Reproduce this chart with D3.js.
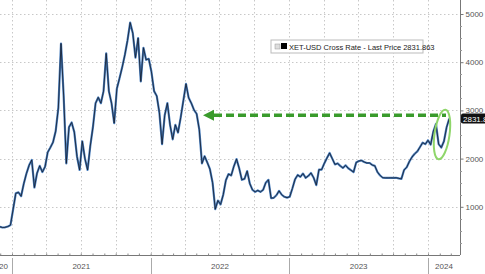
<!DOCTYPE html>
<html>
<head>
<meta charset="utf-8">
<script src="https://cdn.jsdelivr.net/npm/d3@7"></script>
<style>
  body { margin: 0; background: #fff; }
  svg { display: block; font-family: "Liberation Sans", Arial, sans-serif; }
</style>
</head>
<body>
<script>
// XET-USD weekly closes, starting 2020-11-30
var startDate = new Date(2020, 10, 30);
var prices = [
  587, 570, 575, 590, 620, 950, 1280, 1300, 1220, 1480,
  1690, 1860, 1971, 1400, 1700, 1850, 1720, 1830, 2130, 2230,
  2340, 2570, 3050, 4388, 3300, 1900, 2653, 2750, 2550, 2050,
  1764, 2360, 2000, 1764, 2260, 2650, 3150, 3270, 3150, 3400,
  4182, 3400, 3150, 2736, 3450, 3665, 3893, 4150, 4450, 4822,
  4600, 4095, 4500, 3600, 4300, 4050, 4070, 3800, 3400, 3300,
  2950, 2300, 2900, 3150, 2700, 2400, 2700, 2540, 2850, 3200,
  3550, 3260, 3150, 3010, 2930, 2600, 1900, 2050, 1920, 1780,
  1500, 950, 1130, 1050, 1250, 1550, 1680, 1650, 1840, 1990,
  1800, 1560, 1580, 1740, 1480, 1350, 1310, 1340, 1310, 1350,
  1500, 1560, 1180, 1186, 1240, 1330, 1250, 1207, 1190, 1207,
  1380, 1570, 1660, 1620, 1690, 1600, 1640, 1702, 1603, 1450,
  1770, 1770, 1900, 2010, 2116, 2000, 1880, 1900, 1850, 1806,
  1860, 1800, 1760, 1720, 1920, 1950, 1960, 1930, 1909, 1909,
  1868, 1850, 1720, 1650, 1603, 1600, 1599, 1601, 1599, 1603,
  1590, 1580, 1764, 1820, 1940, 2033, 2100, 2150, 2240, 2330,
  2300, 2380, 2290, 2560, 2720, 2300, 2230, 2360, 2650, 2831.863
];
var yTicks = [1000, 2000, 3000, 4000, 5000];
var yearLabels = ["2020", "2021", "2022", "2023", "2024"];
var lastPrice = 2831.863;
var legendText = "XET-USD Cross Rate - Last Price 2831.863";

var width = 485, height = 274;
var plotRight = 460, plotBottom = 255;

var data = prices.map(function(v, i) {
  return { date: d3.timeWeek.offset(startDate, i), value: v };
});

var x = d3.scaleTime()
  .domain([new Date(2021, 0, 1), new Date(2024, 0, 1)])
  .range([12, 428]);
var y = d3.scaleLinear()
  .domain([0, 5000])
  .range([plotBottom, 14]);

var svg = d3.select("body").append("svg")
  .attr("width", width)
  .attr("height", height);

// grid
var xStart = x.invert(0), xEnd = x.invert(plotRight);
var quarters = d3.timeMonth.every(3).range(xStart, xEnd);
svg.append("g").selectAll("line")
  .data(quarters)
  .enter().append("line")
  .attr("x1", function(d) { return Math.round(x(d)) + 0.5; })
  .attr("x2", function(d) { return Math.round(x(d)) + 0.5; })
  .attr("y1", 0)
  .attr("y2", plotBottom)
  .attr("stroke", "#c8c8c8")
  .attr("stroke-width", 1)
  .attr("stroke-dasharray", "1.5,2.5");

svg.append("g").selectAll("line")
  .data(yTicks)
  .enter().append("line")
  .attr("x1", 0)
  .attr("x2", plotRight)
  .attr("y1", function(d) { return Math.round(y(d)) + 0.5; })
  .attr("y2", function(d) { return Math.round(y(d)) + 0.5; })
  .attr("stroke", "#c8c8c8")
  .attr("stroke-width", 1)
  .attr("stroke-dasharray", "1.5,2.5");

// price line
var line = d3.line()
  .x(function(d) { return x(d.date); })
  .y(function(d) { return y(d.value); });

svg.append("path")
  .datum(data)
  .attr("fill", "none")
  .attr("stroke", "#4a7fbf")
  .attr("stroke-width", 2.2)
  .attr("stroke-linejoin", "round")
  .attr("d", line);

svg.append("path")
  .datum(data)
  .attr("fill", "none")
  .attr("stroke", "#141b28")
  .attr("stroke-width", 0.8)
  .attr("stroke-linejoin", "round")
  .attr("d", line);

// right axis
var yAxis = d3.axisRight(y)
  .tickValues(yTicks)
  .tickSize(3)
  .tickPadding(2)
  .tickFormat(d3.format("d"));
var gy = svg.append("g")
  .attr("transform", "translate(" + (plotRight + 0.5) + ",0)")
  .call(yAxis);
gy.select(".domain").attr("stroke", "#777").attr("d", "M0,0V" + plotBottom);
gy.selectAll(".tick line").attr("stroke", "#777");
gy.selectAll("text").attr("fill", "#555").attr("font-size", 8);

svg.append("g").selectAll("line")
  .data(d3.range(250, 5250, 250).filter(function(v) { return v % 1000 !== 0; }))
  .enter().append("line")
  .attr("x1", plotRight)
  .attr("x2", plotRight + 2)
  .attr("y1", function(d) { return Math.round(y(d)) + 0.5; })
  .attr("y2", function(d) { return Math.round(y(d)) + 0.5; })
  .attr("stroke", "#999");

// bottom axis
var months = d3.timeMonth.range(xStart, xEnd);
var xAxis = d3.axisTop(x)
  .tickValues(months)
  .tickSize(2)
  .tickFormat("");
var gx = svg.append("g")
  .attr("transform", "translate(0," + (plotBottom + 0.5) + ")")
  .call(xAxis);
gx.select(".domain").attr("stroke", "#777").attr("d", "M0,0H" + plotRight);
gx.selectAll(".tick line").attr("stroke", "#888");

var years = yearLabels.map(function(s) { return new Date(+s, 0, 1); });
svg.append("g").selectAll("line")
  .data(years.slice(1))
  .enter().append("line")
  .attr("x1", function(d) { return Math.round(x(d)) + 0.5; })
  .attr("x2", function(d) { return Math.round(x(d)) + 0.5; })
  .attr("y1", plotBottom + 3)
  .attr("y2", height)
  .attr("stroke", "#aaa");

svg.append("g").selectAll("text")
  .data(years)
  .enter().append("text")
  .attr("x", function(d) {
    var a = x(d);
    var b = Math.min(x(d3.timeYear.offset(d, 1)), plotRight);
    if (d.getFullYear() === 2020) return x(d3.timeYear.offset(d, 1)) - 13;
    return (a + b) / 2;
  })
  .attr("y", 269)
  .attr("text-anchor", "middle")
  .attr("font-size", 8)
  .attr("fill", "#555")
  .text(function(d) { return d.getFullYear(); });

// last price tag
var tagY = y(lastPrice);
svg.append("rect")
  .attr("x", plotRight + 1)
  .attr("y", tagY - 5)
  .attr("width", 34)
  .attr("height", 10)
  .attr("rx", 2)
  .attr("fill", "#111");
svg.append("text")
  .attr("x", plotRight + 3)
  .attr("y", tagY + 3)
  .attr("font-size", 8)
  .attr("fill", "#fff")
  .text(d3.format(".3f")(lastPrice));

// annotation arrow
var arrowY = y(2900);
svg.append("line")
  .attr("x1", 214)
  .attr("x2", 446)
  .attr("y1", arrowY)
  .attr("y2", arrowY)
  .attr("stroke", "#3a9b2c")
  .attr("stroke-width", 3.5)
  .attr("stroke-dasharray", "8,4");
svg.append("path")
  .attr("d", "M203," + arrowY + "L214," + (arrowY - 5.5) + "L214," + (arrowY + 5.5) + "Z")
  .attr("fill", "#3a9b2c");

svg.append("ellipse")
  .attr("cx", 442)
  .attr("cy", y(2500))
  .attr("rx", 7.5)
  .attr("ry", 25)
  .attr("transform", "rotate(8,442," + y(2500) + ")")
  .attr("fill", "none")
  .attr("stroke", "#8fd66a")
  .attr("stroke-width", 2);

// legend
var lg = svg.append("g").attr("transform", "translate(271,40)");
lg.append("rect")
  .attr("width", 152)
  .attr("height", 13)
  .attr("fill", "#fff")
  .attr("stroke", "#bbb");
lg.append("rect")
  .attr("x", 4).attr("y", 4).attr("width", 5).attr("height", 5)
  .attr("fill", "#ddd").attr("stroke", "#999").attr("stroke-width", 0.5);
lg.append("rect")
  .attr("x", 10).attr("y", 3).attr("width", 6).attr("height", 6)
  .attr("fill", "#000");
lg.append("text")
  .attr("x", 18)
  .attr("y", 9.5)
  .attr("font-size", 7.5)
  .attr("fill", "#222")
  .text(legendText);
</script>
</body>
</html>
